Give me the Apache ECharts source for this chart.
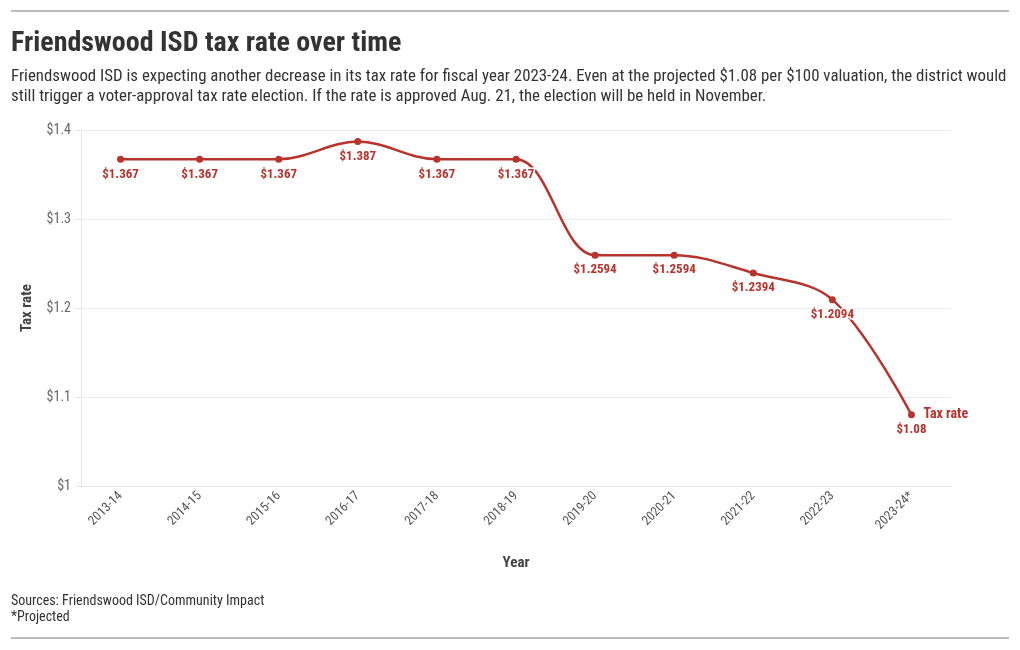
<!DOCTYPE html>
<html><head><meta charset="utf-8">
<script src="https://cdn.jsdelivr.net/npm/echarts@6/dist/echarts.min.js"></script>
<style>html,body{margin:0;padding:0;background:#fff}#c{width:1020px;height:650px}</style>
</head><body><div id="c"></div>
<script>
const categories = ['2013-14','2014-15','2015-16','2016-17','2017-18','2018-19','2019-20','2020-21','2021-22','2022-23','2023-24*'];
const taxRate = [1.367,1.367,1.367,1.387,1.367,1.367,1.2594,1.2594,1.2394,1.2094,1.08];
const yTicks = [1, 1.1, 1.2, 1.3, 1.4];
const FONT = '"Roboto Condensed","Liberation Sans Narrow","DejaVu Sans Condensed",sans-serif';
const RED = '#b8332c';
const chart = echarts.init(document.getElementById('c'), null, {renderer:'canvas'});
chart.setOption({
  backgroundColor:'#fff',
  textStyle:{fontFamily:FONT},
  graphic:[
    {type:'line', shape:{x1:11,y1:11,x2:1009,y2:11}, style:{stroke:'#777',lineWidth:1}},
    {type:'line', shape:{x1:11,y1:638,x2:1009,y2:638}, style:{stroke:'#777',lineWidth:1}},
    {type:'text', left:11, top:30, style:{text:'Friendswood ISD tax rate over time', fontFamily:FONT, fontSize:28, fontWeight:'bold', fill:'#333'}},
    {type:'text', left:11, top:67, style:{text:'Friendswood ISD is expecting another decrease in its tax rate for fiscal year 2023-24. Even at the projected $1.08 per $100 valuation, the district would\nstill trigger a voter-approval tax rate election. If the rate is approved Aug. 21, the election will be held in November.', fontFamily:FONT, fontSize:16.85, lineHeight:20, fill:'#333'}},
    {type:'text', left:11, top:593, style:{text:'Sources: Friendswood ISD/Community Impact\n*Projected', fontFamily:FONT, fontSize:14, lineHeight:16, fill:'#333'}}
  ],
  grid:{left:81, right:69, top:130, bottom:164, containLabel:false},
  xAxis:{
    type:'category', data:categories, boundaryGap:true,
    name:'Year', nameLocation:'middle', nameGap:70,
    nameTextStyle:{fontFamily:FONT, fontSize:15, fontWeight:'bold', color:'#444'},
    axisLine:{lineStyle:{color:'#e6e6e6'}},
    axisTick:{alignWithLabel:true, length:6, lineStyle:{color:'#e6e6e6'}},
    axisLabel:{rotate:45, fontFamily:FONT, fontSize:13, color:'#555', margin:8, interval:0}
  },
  yAxis:{
    type:'value', min:1, max:1.4, interval:0.1,
    name:'Tax rate', nameLocation:'middle', nameGap:46, nameRotate:90,
    nameTextStyle:{fontFamily:FONT, fontSize:15, fontWeight:'bold', color:'#444'},
    axisLine:{show:true, lineStyle:{color:'#e6e6e6'}},
    axisTick:{show:true, length:6, lineStyle:{color:'#e6e6e6'}},
    splitLine:{lineStyle:{color:'#ececec'}},
    axisLabel:{fontFamily:FONT, fontSize:14, color:'#666', margin:10,
      formatter:v => '$' + (+v.toFixed(1)).toString()}
  },
  series:[{
    name:'Tax rate', type:'line', data:taxRate, smooth:0.35,
    symbol:'circle', symbolSize:7,
    lineStyle:{color:RED, width:2.5},
    itemStyle:{color:RED},
    label:{show:true, position:'bottom', distance:5, fontFamily:FONT, fontSize:13, fontWeight:'bold', color:RED,
      textBorderColor:'#fff', textBorderWidth:3,
      formatter:p => '$' + p.value},
    endLabel:{show:true, formatter:'{a}', fontFamily:FONT, fontSize:14, fontWeight:'bold', color:RED, distance:12}
  }]
});
</script></body></html>
